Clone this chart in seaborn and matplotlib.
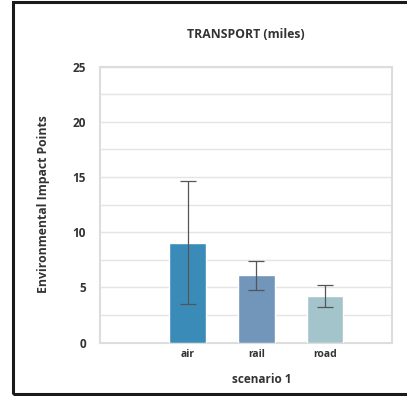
import matplotlib
matplotlib.use("Agg")
import matplotlib.pyplot as plt
import matplotlib.patches as mpatches
import numpy as np
import pandas as pd
import seaborn as sns

# data
modes = ["air", "rail", "road"]
impact = [9.05, 6.1, 4.2]
impact_err = [5.55, 1.33, 0.98]
bar_colors = ["#3b8bb8", "#7295ba", "#a3c4ca"]
yticks = [0, 5, 10, 15, 20, 25]

df = pd.DataFrame({"mode": modes, "impact": impact})

sns.set_theme(style="white")
plt.rcParams["font.family"] = ["Open Sans", "DejaVu Sans"]

fig = plt.figure(figsize=(4.07, 3.96), dpi=100)
ax = fig.add_axes([0.2457, 0.1351, 0.7182, 0.6965])

sns.barplot(
    data=df,
    x="mode",
    y="impact",
    hue="mode",
    palette=bar_colors,
    saturation=1,
    errorbar=None,
    width=0.535,
    legend=False,
    ax=ax,
    zorder=3,
)
ax.errorbar(
    np.arange(len(modes)),
    impact,
    yerr=impact_err,
    fmt="none",
    ecolor="#555555",
    elinewidth=0.9,
    capsize=5.5,
    capthick=0.9,
    zorder=4,
)

ax.set_xlim(-1.278, 2.98)
ax.set_ylim(0, 25)
ax.set_yticks(yticks)
ax.set_yticks(np.arange(0, 25.1, 2.5), minor=True)
ax.grid(axis="y", which="both", color="#e4e4e4", linewidth=1.0, zorder=0)
ax.set_axisbelow(True)
for s in ax.spines.values():
    s.set_color("#dddddd")
    s.set_linewidth(1.5)
ax.tick_params(axis="both", which="both", length=0)
ax.tick_params(axis="y", pad=10, labelsize=8.5, labelcolor="#333333")
ax.tick_params(axis="x", pad=5, labelsize=7.5, labelcolor="#333333")
for lab in ax.get_yticklabels() + ax.get_xticklabels():
    lab.set_fontweight("bold")

ax.set_xlabel("scenario 1", fontsize=8.5, fontweight="bold", color="#333333")
ax.xaxis.set_label_coords(0.554, -0.11)
ax.set_ylabel("Environmental Impact Points", fontsize=8.8, fontweight="bold",
              color="#333333")
ax.yaxis.set_label_coords(-0.172, 0.5)
ax.set_title("TRANSPORT (miles)", fontsize=8.8, fontweight="bold",
             color="#333333", pad=21)

# dark frame around the figure
fig.patches.append(mpatches.Rectangle(
    (13.5 / 407, 2.5 / 396), 1.0, 391.5 / 396,
    transform=fig.transFigure, fill=False, edgecolor="#1a1a1a",
    linewidth=2.2, clip_on=False))

fig.savefig("out.png", dpi=100)
